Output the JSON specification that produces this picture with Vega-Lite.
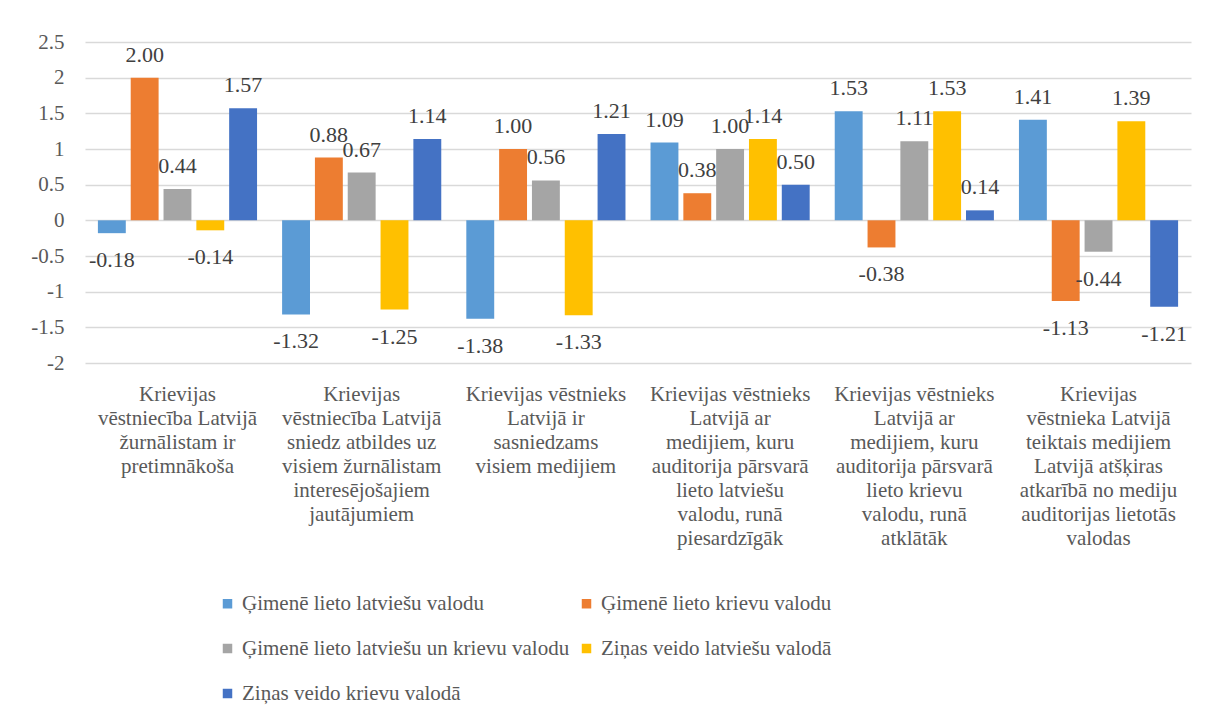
{
  "$schema": "https://vega.github.io/schema/vega-lite/v6.json",
  "width": 1106,
  "height": 321,
  "padding": {"left": 30, "top": 31, "right": 5, "bottom": 5},
  "config": {"view": {"stroke": null}},
  "data": {
    "values": [
      {"cat": "Krievijas|vēstniecība Latvijā|žurnālistam ir|pretimnākoša", "series": "Ģimenē lieto latviešu valodu", "value": -0.18},
      {"cat": "Krievijas|vēstniecība Latvijā|žurnālistam ir|pretimnākoša", "series": "Ģimenē lieto krievu valodu", "value": 2.00},
      {"cat": "Krievijas|vēstniecība Latvijā|žurnālistam ir|pretimnākoša", "series": "Ģimenē lieto latviešu un krievu valodu", "value": 0.44},
      {"cat": "Krievijas|vēstniecība Latvijā|žurnālistam ir|pretimnākoša", "series": "Ziņas veido latviešu valodā", "value": -0.14},
      {"cat": "Krievijas|vēstniecība Latvijā|žurnālistam ir|pretimnākoša", "series": "Ziņas veido krievu valodā", "value": 1.57},
      {"cat": "Krievijas|vēstniecība Latvijā|sniedz atbildes uz|visiem žurnālistam|interesējošajiem|jautājumiem", "series": "Ģimenē lieto latviešu valodu", "value": -1.32},
      {"cat": "Krievijas|vēstniecība Latvijā|sniedz atbildes uz|visiem žurnālistam|interesējošajiem|jautājumiem", "series": "Ģimenē lieto krievu valodu", "value": 0.88},
      {"cat": "Krievijas|vēstniecība Latvijā|sniedz atbildes uz|visiem žurnālistam|interesējošajiem|jautājumiem", "series": "Ģimenē lieto latviešu un krievu valodu", "value": 0.67},
      {"cat": "Krievijas|vēstniecība Latvijā|sniedz atbildes uz|visiem žurnālistam|interesējošajiem|jautājumiem", "series": "Ziņas veido latviešu valodā", "value": -1.25},
      {"cat": "Krievijas|vēstniecība Latvijā|sniedz atbildes uz|visiem žurnālistam|interesējošajiem|jautājumiem", "series": "Ziņas veido krievu valodā", "value": 1.14},
      {"cat": "Krievijas vēstnieks|Latvijā ir|sasniedzams|visiem medijiem", "series": "Ģimenē lieto latviešu valodu", "value": -1.38},
      {"cat": "Krievijas vēstnieks|Latvijā ir|sasniedzams|visiem medijiem", "series": "Ģimenē lieto krievu valodu", "value": 1.00},
      {"cat": "Krievijas vēstnieks|Latvijā ir|sasniedzams|visiem medijiem", "series": "Ģimenē lieto latviešu un krievu valodu", "value": 0.56},
      {"cat": "Krievijas vēstnieks|Latvijā ir|sasniedzams|visiem medijiem", "series": "Ziņas veido latviešu valodā", "value": -1.33},
      {"cat": "Krievijas vēstnieks|Latvijā ir|sasniedzams|visiem medijiem", "series": "Ziņas veido krievu valodā", "value": 1.21},
      {"cat": "Krievijas vēstnieks|Latvijā ar|medijiem, kuru|auditorija pārsvarā|lieto latviešu|valodu, runā|piesardzīgāk", "series": "Ģimenē lieto latviešu valodu", "value": 1.09},
      {"cat": "Krievijas vēstnieks|Latvijā ar|medijiem, kuru|auditorija pārsvarā|lieto latviešu|valodu, runā|piesardzīgāk", "series": "Ģimenē lieto krievu valodu", "value": 0.38},
      {"cat": "Krievijas vēstnieks|Latvijā ar|medijiem, kuru|auditorija pārsvarā|lieto latviešu|valodu, runā|piesardzīgāk", "series": "Ģimenē lieto latviešu un krievu valodu", "value": 1.00},
      {"cat": "Krievijas vēstnieks|Latvijā ar|medijiem, kuru|auditorija pārsvarā|lieto latviešu|valodu, runā|piesardzīgāk", "series": "Ziņas veido latviešu valodā", "value": 1.14},
      {"cat": "Krievijas vēstnieks|Latvijā ar|medijiem, kuru|auditorija pārsvarā|lieto latviešu|valodu, runā|piesardzīgāk", "series": "Ziņas veido krievu valodā", "value": 0.50},
      {"cat": "Krievijas vēstnieks|Latvijā ar|medijiem, kuru|auditorija pārsvarā|lieto krievu|valodu, runā|atklātāk", "series": "Ģimenē lieto latviešu valodu", "value": 1.53},
      {"cat": "Krievijas vēstnieks|Latvijā ar|medijiem, kuru|auditorija pārsvarā|lieto krievu|valodu, runā|atklātāk", "series": "Ģimenē lieto krievu valodu", "value": -0.38},
      {"cat": "Krievijas vēstnieks|Latvijā ar|medijiem, kuru|auditorija pārsvarā|lieto krievu|valodu, runā|atklātāk", "series": "Ģimenē lieto latviešu un krievu valodu", "value": 1.11},
      {"cat": "Krievijas vēstnieks|Latvijā ar|medijiem, kuru|auditorija pārsvarā|lieto krievu|valodu, runā|atklātāk", "series": "Ziņas veido latviešu valodā", "value": 1.53},
      {"cat": "Krievijas vēstnieks|Latvijā ar|medijiem, kuru|auditorija pārsvarā|lieto krievu|valodu, runā|atklātāk", "series": "Ziņas veido krievu valodā", "value": 0.14},
      {"cat": "Krievijas|vēstnieka Latvijā|teiktais medijiem|Latvijā atšķiras|atkarībā no mediju|auditorijas lietotās|valodas", "series": "Ģimenē lieto latviešu valodu", "value": 1.41},
      {"cat": "Krievijas|vēstnieka Latvijā|teiktais medijiem|Latvijā atšķiras|atkarībā no mediju|auditorijas lietotās|valodas", "series": "Ģimenē lieto krievu valodu", "value": -1.13},
      {"cat": "Krievijas|vēstnieka Latvijā|teiktais medijiem|Latvijā atšķiras|atkarībā no mediju|auditorijas lietotās|valodas", "series": "Ģimenē lieto latviešu un krievu valodu", "value": -0.44},
      {"cat": "Krievijas|vēstnieka Latvijā|teiktais medijiem|Latvijā atšķiras|atkarībā no mediju|auditorijas lietotās|valodas", "series": "Ziņas veido latviešu valodā", "value": 1.39},
      {"cat": "Krievijas|vēstnieka Latvijā|teiktais medijiem|Latvijā atšķiras|atkarībā no mediju|auditorijas lietotās|valodas", "series": "Ziņas veido krievu valodā", "value": -1.21}
    ]
  },
  "encoding": {
    "x": {
      "field": "cat", "type": "nominal", "sort": null,
      "scale": {"paddingInner": 0.136, "paddingOuter": 0.07},
      "axis": {
        "title": null, "domain": false, "ticks": false, "labelAngle": 0,
        "labelExpr": "split(datum.label, '|')", "labelFont": "Liberation Serif",
        "labelFontSize": 21, "labelColor": "#595959", "labelLineHeight": 24,
        "labelPadding": 20, "labelBaseline": "top", "labelLimit": 0
      }
    },
    "xOffset": {
      "field": "series", "type": "nominal", "sort": null,
      "scale": {"paddingInner": 0.15, "paddingOuter": 0,
        "domain": ["Ģimenē lieto latviešu valodu", "Ģimenē lieto krievu valodu", "Ģimenē lieto latviešu un krievu valodu", "Ziņas veido latviešu valodā", "Ziņas veido krievu valodā"]}
    },
    "y": {
      "field": "value", "type": "quantitative",
      "scale": {"domain": [-2, 2.5], "nice": false, "zero": false},
      "axis": {
        "title": null, "domain": false, "ticks": false, "values": [-2, -1.5, -1, -0.5, 0, 0.5, 1, 1.5, 2, 2.5],
        "labelExpr": "'' + datum.value", "labelFont": "Liberation Serif", "labelFontSize": 21, "labelColor": "#595959", "labelPadding": 21,
        "gridColor": "#d9d9d9", "gridWidth": 1.3
      }
    }
  },
  "layer": [
    {
      "mark": {"type": "bar"},
      "encoding": {
        "color": {
          "field": "series", "type": "nominal", "sort": null,
          "scale": {
            "domain": ["Ģimenē lieto latviešu valodu", "Ģimenē lieto krievu valodu", "Ģimenē lieto latviešu un krievu valodu", "Ziņas veido latviešu valodā", "Ziņas veido krievu valodā"],
            "range": ["#5b9bd5", "#ed7d31", "#a5a5a5", "#ffc000", "#4472c4"]
          },
          "legend": {
            "title": null, "orient": "none", "legendX": 132, "legendY": 551,
            "direction": "horizontal", "columns": 2, "symbolType": "square", "symbolSize": 90,
            "symbolStrokeWidth": 0, "labelFont": "Liberation Serif", "labelFontSize": 21, "labelColor": "#595959", "labelLimit": 0,
            "rowPadding": 23, "columnPadding": 6, "labelOffset": 4
          }
        }
      }
    },
    {
      "transform": [{"filter": "datum.value >= 0"}],
      "mark": {"type": "text", "baseline": "alphabetic", "dy": -16, "font": "Liberation Serif", "fontSize": 22, "color": "#404040",
        "text": {"expr": "format(datum.value, '.2f')"}}
    },
    {
      "transform": [{"filter": "datum.value < 0"}],
      "mark": {"type": "text", "baseline": "alphabetic", "dy": 34, "font": "Liberation Serif", "fontSize": 22, "color": "#404040",
        "text": {"expr": "'-' + format(-datum.value, '.2f')"}}
    }
  ]
}
